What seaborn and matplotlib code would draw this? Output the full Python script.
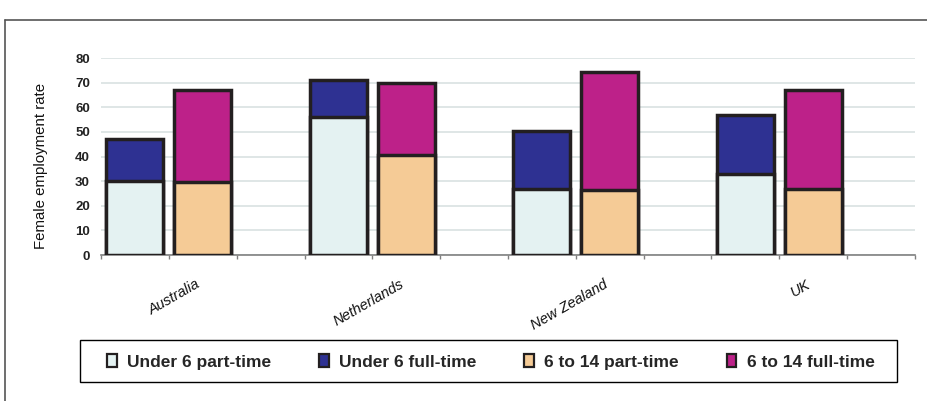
import matplotlib
matplotlib.use("Agg")
import matplotlib.pyplot as plt
import seaborn as sns
import pandas as pd
import numpy as np
from matplotlib.patches import Patch, Rectangle
from matplotlib.lines import Line2D

# ---- data ----
countries = ["Australia", "Netherlands", "New Zealand", "UK"]
under6_part = [30, 56, 27, 33]
under6_full = [17, 15, 23.5, 24]
age6to14_part = [29.5, 40.5, 26.5, 27]
age6to14_full = [37.5, 29.5, 48, 40]
series_names = ["Under 6 part-time", "Under 6 full-time", "6 to 14 part-time", "6 to 14 full-time"]
colors = ["#E4F2F2", "#2E3192", "#F5CB96", "#BD2189"]
edge = "#231F20"

sns.set_theme(style="white")
plt.rcParams["font.family"] = ["Liberation Sans", "DejaVu Sans"]

# build slot table: per country -> under 6 bar, 6-14 bar, empty gap
slots, part_vals, total_vals, part_col, full_col = [], [], [], [], []
order = []
for i, c in enumerate(countries):
    s1, s2, s3 = f"{c}|u6", f"{c}|6-14", f"{c}|gap"
    order += [s1, s2, s3]
    slots += [s1, s2]
    part_vals += [under6_part[i], age6to14_part[i]]
    total_vals += [under6_part[i] + under6_full[i], age6to14_part[i] + age6to14_full[i]]
    part_col += [colors[0], colors[2]]
    full_col += [colors[1], colors[3]]

df = pd.DataFrame({"slot": slots, "part": part_vals, "total": total_vals})
pal_full = dict(zip(slots, full_col))
pal_part = dict(zip(slots, part_col))

fig = plt.figure(figsize=(9.27, 4.01), dpi=100)
ax = fig.add_axes([101/927, 1-255/401, (915-101)/927, (255-58)/401])

sns.barplot(data=df, x="slot", y="total", hue="slot", order=order, hue_order=slots,
            palette=pal_full, saturation=1, width=0.84, edgecolor=edge, linewidth=2.5,
            legend=False, ax=ax, dodge=False, zorder=3)
sns.barplot(data=df, x="slot", y="part", hue="slot", order=order, hue_order=slots,
            palette=pal_part, saturation=1, width=0.84, edgecolor=edge, linewidth=2.5,
            legend=False, ax=ax, dodge=False, zorder=4)

ax.set_xlim(-0.5, len(order) - 0.5)
ax.set_ylim(0, 80)
ax.set_yticks(np.arange(0, 81, 10))
ax.set_yticklabels([str(v) for v in range(0, 81, 10)], fontsize=9.5, fontweight="bold", color="#222222")
ax.tick_params(axis="y", length=0, pad=8)
ax.grid(axis="y", color="#DCE4E4", linewidth=1.3, zorder=0)
ax.set_axisbelow(True)

ax.set_xticks([1, 4, 7, 10])
ax.set_xticklabels(countries, rotation=30, ha="right", fontsize=10.5, style="italic", color="#111111")
ax.set_xticks(np.arange(-0.5, len(order), 1), minor=True)
ax.tick_params(axis="x", which="major", length=0, pad=16)
ax.tick_params(axis="x", which="minor", length=3, width=1, color="#808080", direction="out", bottom=True)
ax.set_xlabel("")
ax.set_ylabel("")

for s in ["top", "right", "left"]:
    ax.spines[s].set_visible(False)
ax.spines["bottom"].set_color("#808080")
ax.spines["bottom"].set_linewidth(1.2)

fig.text(41/927, 1-166/401, "Female employment rate", rotation=90, ha="center", va="center",
         fontsize=10.8, color="#111111")

handles = [Patch(facecolor=c, edgecolor=edge, linewidth=1.6) for c in colors]
leg = fig.legend(handles, series_names, loc="center", ncol=4,
                 bbox_to_anchor=(491/927, 1-362/401),
                 frameon=False,
                 handlelength=0.55, handleheight=0.75, handletextpad=0.6, columnspacing=2.75,
                 prop={"weight": "bold", "size": 12.5})
fig.add_artist(Rectangle((80/927, 1-382/401), 817/927, 42/401, transform=fig.transFigure,
                         fill=False, edgecolor="#000000", linewidth=1.0))

fig.add_artist(Line2D([5/927, 5/927], [0, 1-20/401], transform=fig.transFigure, color="#555555", lw=1.2))
fig.add_artist(Line2D([5/927, 1], [1-20/401, 1-20/401], transform=fig.transFigure, color="#555555", lw=1.2))

fig.savefig("out.png", dpi=100)
